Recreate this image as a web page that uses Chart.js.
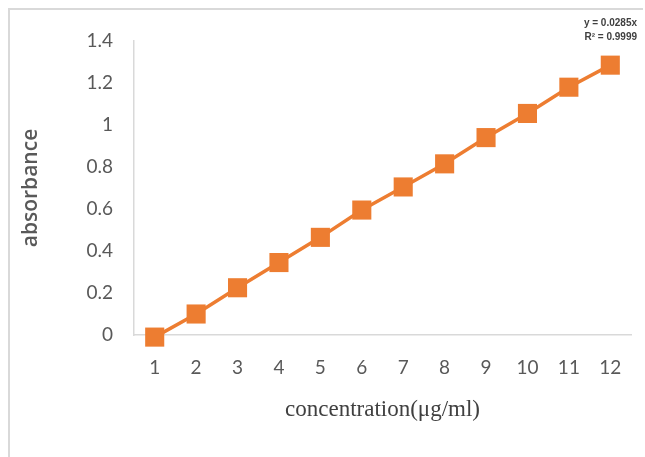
<!DOCTYPE html>
<html>
<head>
<meta charset="utf-8">
<script src="https://cdn.jsdelivr.net/npm/chart.js@4"></script>
<style>
  html, body { margin: 0; padding: 0; background: #fff; }
  #wrap { position: relative; width: 645px; height: 457px; }
  #frame { position: absolute; left: 8px; top: 8px; right: 2px; bottom: 0; border-top: 2px solid #d9d9d9; border-left: 2px solid #d9d9d9; }
  canvas { position: absolute; left: 0; top: 0; }
</style>
</head>
<body>
<div id="wrap">
  <div id="frame"></div>
  <canvas id="chart" width="645" height="457"></canvas>
</div>
<script>
// concentration categories and measured absorbance
const concentrations = ['1', '2', '3', '4', '5', '6', '7', '8', '9', '10', '11', '12'];
const absorbance = [-0.01, 0.1, 0.225, 0.345, 0.465, 0.595, 0.705, 0.815, 0.94, 1.055, 1.18, 1.285];
const trendLabels = ['y = 0.0285x', 'R\u00b2 = 0.9999'];

const orange = '#ED7D31';
const tickColor = '#595959';

// trendline equation in the top right corner
const equationPlugin = {
  id: 'equation',
  afterDraw(chart) {
    const ctx = chart.ctx;
    ctx.save();
    ctx.font = 'bold 10px "Liberation Sans", Arial';
    ctx.fillStyle = '#404040';
    ctx.textAlign = 'right';
    ctx.textBaseline = 'middle';
    ctx.fillText(trendLabels[0], 637, 23);
    ctx.fillText(trendLabels[1], 637, 37);
    ctx.restore();
  }
};

new Chart(document.getElementById('chart'), {
  type: 'line',
  data: {
    labels: concentrations,
    datasets: [{
      data: absorbance,
      borderColor: orange,
      backgroundColor: orange,
      borderWidth: 3.5,
      pointStyle: 'rect',
      pointRadius: 13.5,
      pointHoverRadius: 13.5,
      pointBorderWidth: 0,
      clip: false
    }]
  },
  options: {
    responsive: false,
    animation: false,
    layout: { padding: { top: 41, right: 14, left: 0, bottom: 0 } },
    plugins: { legend: { display: false }, tooltip: { enabled: false } },
    scales: {
      x: {
        offset: true,
        grid: { display: false, drawTicks: false },
        border: { display: true, color: '#d9d9d9', width: 1.5 },
        ticks: { color: tickColor, font: { family: 'Lato', size: 19 }, padding: 21, maxRotation: 0 },
        title: {
          display: true,
          text: 'concentration(\u03bcg/ml)',
          color: '#404040',
          font: { family: '"Liberation Serif", serif', size: 23 },
          padding: { top: 0, bottom: 33 }
        },
        afterFit(s) { s.height = 122; }
      },
      y: {
        min: 0,
        max: 1.4,
        grid: { display: false, drawTicks: false },
        border: { display: true, color: '#d9d9d9', width: 1.5 },
        ticks: {
          stepSize: 0.2,
          color: tickColor,
          font: { family: 'Lato', size: 19 },
          padding: 21,
          callback: v => String(+v.toFixed(1))
        },
        title: {
          display: true,
          text: 'absorbance',
          color: '#595959',
          font: { family: '"Open Sans"', size: 21, weight: '600' },
          padding: { top: 18, bottom: 0 }
        },
        afterFit(s) { s.width = 134; }
      }
    }
  },
  plugins: [equationPlugin]
});
</script>
</body>
</html>
